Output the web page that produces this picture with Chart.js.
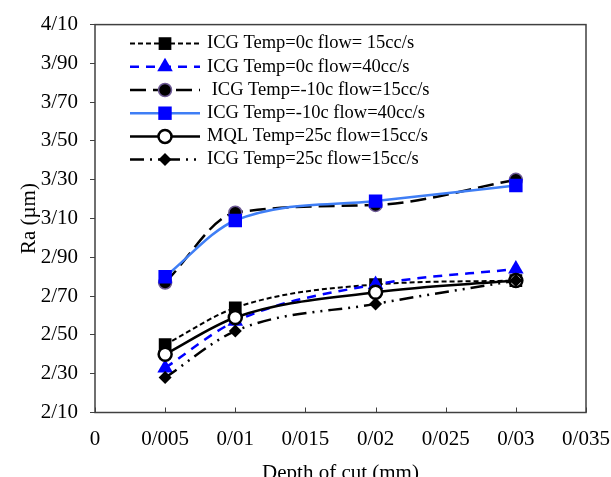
<!DOCTYPE html>
<html>
<head>
<meta charset="utf-8">
<script src="https://cdn.jsdelivr.net/npm/chart.js@4.4.1/dist/chart.umd.min.js"></script>
<style>
  body { margin: 0; background: #fff; }
  canvas { display: block; }
</style>
</head>
<body>
<canvas id="ra-depth" width="611" height="477"></canvas>
<script>
// Ra vs depth of cut, six cooling conditions
const depths = [0.005, 0.01, 0.02, 0.03];

const seriesNames = [
    "ICG Temp=0c flow= 15cc/s",
    "ICG Temp=0c flow=40cc/s",
    " ICG Temp=-10c flow=15cc/s",
    "ICG Temp=-10c flow=40cc/s",
    "MQL Temp=25c flow=15cc/s",
    "ICG Temp=25c flow=15cc/s",
];

const icg0_15 = [2.45, 2.64, 2.76, 2.78];
const icg0_40 = [2.33, 2.57, 2.76, 2.84];
const icgM10_15 = [2.77, 3.13, 3.17, 3.30];
const icgM10_40 = [2.80, 3.09, 3.19, 3.27];
const mql25_15 = [2.40, 2.59, 2.72, 2.78];
const icg25_15 = [2.28, 2.52, 2.66, 2.78];

const yTickLabels = ["2/10", "2/30", "2/50", "2/70", "2/90", "3/10", "3/30", "3/50", "3/70", "3/90", "4/10"];
const xTickLabels = ["0", "0/005", "0/01", "0/015", "0/02", "0/025", "0/03", "0/035"];

const serif = "'Liberation Serif', 'Times New Roman', serif";

function pts(vals) {
    return vals.map((v, i) => ({ x: depths[i], y: v }));
}

const styles = [
    { color: "#000000", width: 2, dash: [5, 3], point: "rect", r: 9, fill: "#000000", pb: "#000000", pbw: 0 },
    { color: "#0000ff", width: 2.5, dash: [9, 7], point: "triangle", r: 9, fill: "#0000ff", pb: "#0000ff", pbw: 0 },
    { color: "#000000", width: 2.5, dash: [16, 7], point: "circle", r: 6.5, fill: "#000000", pb: "#6e5a96", pbw: 1.5 },
    { color: "#3f7ef5", width: 2.5, dash: [], point: "rect", r: 9.5, fill: "#0000ff", pb: "#0000ff", pbw: 0 },
    { color: "#000000", width: 2.5, dash: [], point: "circle", r: 6.5, fill: "#ffffff", pb: "#000000", pbw: 2.5 },
    { color: "#000000", width: 2.5, dash: [14, 6, 2, 6, 2, 6], point: "rectRot", r: 6.5, fill: "#000000", pb: "#000000", pbw: 0 },
];

const seriesValues = [icg0_15, icg0_40, icgM10_15, icgM10_40, mql25_15, icg25_15];

const datasets = seriesValues.map((vals, i) => {
    const s = styles[i];
    return {
        label: seriesNames[i],
        data: pts(vals),
        borderColor: s.color,
        borderWidth: s.width,
        borderDash: s.dash,
        backgroundColor: s.fill,
        pointStyle: s.point,
        pointRadius: s.r,
        pointBackgroundColor: s.fill,
        pointBorderColor: s.pb,
        pointBorderWidth: s.pbw,
        cubicInterpolationMode: "monotone",
        fill: false,
        order: 6 - i,
    };
});

// small marker painter for the legend samples
function drawMarker(ctx, s, x, y) {
    ctx.save();
    ctx.fillStyle = s.fill;
    ctx.strokeStyle = s.pb;
    ctx.lineWidth = s.pbw;
    ctx.setLineDash([]);
    ctx.beginPath();
    if (s.point === "rect") {
        const h = s.r * Math.SQRT1_2;
        ctx.rect(x - h, y - h, 2 * h, 2 * h);
    } else if (s.point === "triangle") {
        for (let k = 0; k < 3; k++) {
            const a = k * 2 * Math.PI / 3;
            const px = x + Math.sin(a) * s.r, py = y - Math.cos(a) * s.r;
            if (k === 0) ctx.moveTo(px, py); else ctx.lineTo(px, py);
        }
        ctx.closePath();
    } else if (s.point === "circle") {
        ctx.arc(x, y, s.r, 0, Math.PI * 2);
    } else if (s.point === "rectRot") {
        ctx.moveTo(x, y - s.r);
        ctx.lineTo(x + s.r, y);
        ctx.lineTo(x, y + s.r);
        ctx.lineTo(x - s.r, y);
        ctx.closePath();
    }
    ctx.fill();
    if (s.pbw > 0) ctx.stroke();
    ctx.restore();
}

const framePlugin = {
    id: "frame",
    afterDraw(chart) {
        const { ctx, chartArea: a } = chart;
        const xs = chart.scales.x;
        ctx.save();
        ctx.strokeStyle = "#404040";
        ctx.lineWidth = 1.5;
        ctx.setLineDash([]);
        ctx.strokeRect(a.left, a.top, a.right - a.left, a.bottom - a.top);
        // inward tick marks on the x axis
        ctx.lineWidth = 1;
        xs.ticks.forEach(t => {
            const px = Math.round(xs.getPixelForValue(t.value)) + 0.5;
            ctx.beginPath();
            ctx.moveTo(px, a.bottom);
            ctx.lineTo(px, a.bottom - 5);
            ctx.stroke();
        });
        ctx.restore();

        // legend
        const lx = a.left + 35, ly = a.top + 19, rowH = 23.2;
        ctx.save();
        ctx.font = "18.5px " + serif;
        ctx.textBaseline = "middle";
        ctx.fillStyle = "#000";
        styles.forEach((s, i) => {
            const y = ly + i * rowH;
            ctx.strokeStyle = s.color;
            ctx.lineWidth = s.width;
            ctx.setLineDash(s.dash);
            ctx.beginPath();
            ctx.moveTo(lx, y);
            ctx.lineTo(lx + 70, y);
            ctx.stroke();
            drawMarker(ctx, s, lx + 35, y);
            ctx.fillText(seriesNames[i], lx + 77, y);
        });
        ctx.restore();
    }
};

const config = {
    type: "line",
    data: { datasets },
    options: {
        responsive: false,
        devicePixelRatio: 1,
        animation: false,
        layout: { padding: { left: 0, right: 25, top: 21, bottom: 0 } },
        plugins: {
            legend: { display: false },
            tooltip: { enabled: false },
        },
        scales: {
            x: {
                type: "linear",
                min: 0,
                max: 0.035,
                ticks: {
                    stepSize: 0.005,
                    padding: 14,
                    color: "#000",
                    font: { family: serif, size: 21 },
                    maxRotation: 0,
                    callback: (v, i) => xTickLabels[i],
                },
                grid: { drawOnChartArea: false, drawTicks: false },
                border: { display: false },
                title: {
                    display: true,
                    text: "Depth of cut (mm)",
                    color: "#000",
                    font: { family: serif, size: 21, lineHeight: 1 },
                    padding: { top: 0, bottom: -7 },
                },
                afterFit: s => {
                    s.height = 64.5;
                    s.paddingLeft = 0;
                    s.paddingRight = 0;
                },
            },
            y: {
                min: 2.1,
                max: 4.1,
                ticks: {
                    stepSize: 0.2,
                    padding: 12,
                    color: "#000",
                    font: { family: serif, size: 21 },
                    callback: (v, i) => yTickLabels[i],
                },
                grid: { drawOnChartArea: false, drawTicks: true, tickLength: 5, color: "#404040" },
                border: { display: false },
                title: {
                    display: true,
                    text: "Ra (µm)",
                    color: "#000",
                    font: { family: serif, size: 21, lineHeight: 1 },
                    padding: { top: 19, bottom: 0 },
                },
                afterFit: s => { s.width = 95; },
            },
        },
    },
    plugins: [framePlugin],
};

var raChart = new Chart(document.getElementById("ra-depth"), config);
</script>
</body>
</html>
